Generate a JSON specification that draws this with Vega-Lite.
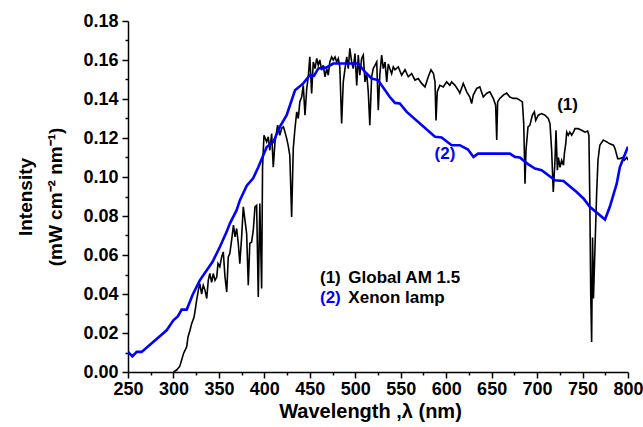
{
  "$schema": "https://vega.github.io/schema/vega-lite/v6.json",
  "width": 500,
  "height": 351,
  "autosize": {"type": "none"},
  "padding": {"left": 128, "top": 21, "right": 15, "bottom": 55},
  "background": "white",
  "config": {
    "font": "Liberation Sans",
    "view": {"stroke": null},
    "axis": {
      "grid": false,
      "domainColor": "#000000",
      "domainWidth": 1.5,
      "tickColor": "#000000",
      "tickWidth": 1.5,
      "labelColor": "#000000",
      "labelFont": "Liberation Sans",
      "labelFontWeight": "bold",
      "labelFontSize": 18,
      "labelFlush": false,
      "labelOverlap": false,
      "titleColor": "#000000",
      "titleFont": "Liberation Sans",
      "titleFontWeight": "bold"
    }
  },
  "datasets": {
    "am": [
      {"w":300,"v":0},{"w":303.5,"v":0.001},{"w":307,"v":0.003},{"w":311,"v":0.0094},{"w":314.6,"v":0.013},{"w":316,"v":0.018},{"w":318,"v":0.021},{"w":320,"v":0.0248},{"w":322.6,"v":0.028},{"w":324,"v":0.032},{"w":325.5,"v":0.0368},{"w":327.4,"v":0.042},{"w":329,"v":0.0453},{"w":331,"v":0.040},{"w":332.8,"v":0.0445},{"w":334.7,"v":0.042},{"w":336.6,"v":0.0377},{"w":338.3,"v":0.047},{"w":340,"v":0.0505},{"w":342,"v":0.046},{"w":343.8,"v":0.0505},{"w":345.7,"v":0.047},{"w":347.6,"v":0.0487},{"w":349,"v":0.0556},{"w":351,"v":0.054},{"w":353,"v":0.059},{"w":354.8,"v":0.0616},{"w":356.7,"v":0.0487},{"w":358.6,"v":0.041},{"w":360.3,"v":0.059},{"w":362,"v":0.0607},{"w":364,"v":0.0676},{"w":366,"v":0.0753},{"w":367.7,"v":0.0693},{"w":369.5,"v":0.0736},{"w":371.3,"v":0.066},{"w":373,"v":0.0556},{"w":375,"v":0.0693},{"w":376.8,"v":0.0847},{"w":378.7,"v":0.0778},{"w":380.5,"v":0.071},{"w":382.3,"v":0.0445},{"w":384,"v":0.066},{"w":386,"v":0.0667},{"w":387.8,"v":0.0727},{"w":389.7,"v":0.0847},{"w":391.5,"v":0.0855},{"w":393.3,"v":0.0385},{"w":395,"v":0.0864},{"w":397,"v":0.0428},{"w":398,"v":0.105},{"w":399.6,"v":0.1214},{"w":402.5,"v":0.118},{"w":404.3,"v":0.1206},{"w":406,"v":0.1137},{"w":408,"v":0.1223},{"w":409.8,"v":0.105},{"w":411.7,"v":0.118},{"w":414.6,"v":0.1266},{"w":417,"v":0.1214},{"w":419,"v":0.125},{"w":421,"v":0.1257},{"w":422.7,"v":0.123},{"w":424.6,"v":0.1197},{"w":426.3,"v":0.116},{"w":428,"v":0.111},{"w":430,"v":0.0795},{"w":431.8,"v":0.1146},{"w":433.7,"v":0.125},{"w":435.6,"v":0.1334},{"w":437.3,"v":0.130},{"w":439,"v":0.1385},{"w":441,"v":0.141},{"w":442.8,"v":0.147},{"w":444.7,"v":0.1317},{"w":446.6,"v":0.1454},{"w":448.3,"v":0.1514},{"w":450,"v":0.1616},{"w":452,"v":0.1428},{"w":453.8,"v":0.159},{"w":455.7,"v":0.1556},{"w":457.6,"v":0.1608},{"w":459.3,"v":0.1573},{"w":461,"v":0.160},{"w":463,"v":0.1548},{"w":464.8,"v":0.1573},{"w":466.7,"v":0.1514},{"w":468.6,"v":0.1556},{"w":470.3,"v":0.1522},{"w":472,"v":0.159},{"w":474,"v":0.1616},{"w":475.8,"v":0.160},{"w":477.7,"v":0.1616},{"w":479.6,"v":0.159},{"w":481.3,"v":0.1608},{"w":483,"v":0.1565},{"w":485,"v":0.1274},{"w":486.8,"v":0.1488},{"w":488.7,"v":0.1556},{"w":490.6,"v":0.1616},{"w":492.3,"v":0.1556},{"w":494,"v":0.166},{"w":496,"v":0.159},{"w":497.8,"v":0.1556},{"w":499.7,"v":0.1633},{"w":501.6,"v":0.147},{"w":503.3,"v":0.1625},{"w":505,"v":0.1522},{"w":507,"v":0.1608},{"w":508.8,"v":0.1625},{"w":510.7,"v":0.1488},{"w":512.6,"v":0.153},{"w":514.3,"v":0.1437},{"w":516,"v":0.1266},{"w":518,"v":0.1514},{"w":519.8,"v":0.1556},{"w":521.7,"v":0.1573},{"w":523.6,"v":0.159},{"w":525.3,"v":0.1342},{"w":527,"v":0.1522},{"w":529,"v":0.1625},{"w":530.8,"v":0.1556},{"w":532.7,"v":0.159},{"w":534.6,"v":0.1488},{"w":536.3,"v":0.158},{"w":538,"v":0.1556},{"w":540,"v":0.153},{"w":541.8,"v":0.1565},{"w":543.7,"v":0.155},{"w":547.3,"v":0.1565},{"w":551,"v":0.1522},{"w":554.7,"v":0.155},{"w":558.3,"v":0.1514},{"w":562,"v":0.153},{"w":565.7,"v":0.1497},{"w":569.3,"v":0.1505},{"w":573,"v":0.148},{"w":576.7,"v":0.1462},{"w":580.3,"v":0.1514},{"w":583.3,"v":0.155},{"w":586,"v":0.153},{"w":587.7,"v":0.1488},{"w":588.8,"v":0.129},{"w":590.2,"v":0.1437},{"w":593,"v":0.147},{"w":596.8,"v":0.1462},{"w":600.5,"v":0.1488},{"w":604,"v":0.147},{"w":606,"v":0.1488},{"w":609.7,"v":0.147},{"w":613.3,"v":0.1445},{"w":615,"v":0.143},{"w":618.8,"v":0.148},{"w":622.6,"v":0.1437},{"w":626,"v":0.141},{"w":628,"v":0.1377},{"w":629.8,"v":0.142},{"w":633.6,"v":0.1454},{"w":637,"v":0.1462},{"w":640.8,"v":0.141},{"w":644.6,"v":0.143},{"w":648,"v":0.1437},{"w":651.8,"v":0.1403},{"w":654.4,"v":0.1368},{"w":655.6,"v":0.119},{"w":656.6,"v":0.1385},{"w":659,"v":0.1403},{"w":662.8,"v":0.142},{"w":666.6,"v":0.143},{"w":670,"v":0.141},{"w":673.8,"v":0.1403},{"w":677.6,"v":0.1403},{"w":681,"v":0.1394},{"w":683.8,"v":0.1385},{"w":685.3,"v":0.1274},{"w":686.7,"v":0.0966},{"w":687.8,"v":0.1137},{"w":690,"v":0.1257},{"w":692,"v":0.1265},{"w":694.8,"v":0.1317},{"w":697,"v":0.1334},{"w":698.5,"v":0.129},{"w":701.3,"v":0.1317},{"w":705,"v":0.1325},{"w":708.7,"v":0.1317},{"w":712.3,"v":0.130},{"w":714.2,"v":0.1274},{"w":716,"v":0.1137},{"w":717.8,"v":0.0923},{"w":719.7,"v":0.1086},{"w":720.8,"v":0.124},{"w":722.3,"v":0.1035},{"w":723.4,"v":0.110},{"w":725.2,"v":0.105},{"w":727,"v":0.1086},{"w":729,"v":0.106},{"w":730,"v":0.112},{"w":731.5,"v":0.117},{"w":732.6,"v":0.123},{"w":734.3,"v":0.1214},{"w":736,"v":0.123},{"w":738,"v":0.1214},{"w":740,"v":0.123},{"w":741.7,"v":0.1248},{"w":745,"v":0.1248},{"w":749,"v":0.124},{"w":752.7,"v":0.123},{"w":755.6,"v":0.1236},{"w":757,"v":0.1214},{"w":758,"v":0.088},{"w":759,"v":0.040},{"w":760,"v":0.0154},{"w":761,"v":0.069},{"w":762,"v":0.0377},{"w":763.7,"v":0.064},{"w":765.5,"v":0.0915},{"w":767,"v":0.1086},{"w":769,"v":0.1163},{"w":772.8,"v":0.119},{"w":776.6,"v":0.118},{"w":780,"v":0.117},{"w":784,"v":0.1163},{"w":785.7,"v":0.1146},{"w":788.7,"v":0.1094},{"w":791,"v":0.1094},{"w":793.8,"v":0.110},{"w":796,"v":0.1086},{"w":798.6,"v":0.110},{"w":800,"v":0.1086}
    ],
    "xe": [
      {"w":250,"v":0.0103},{"w":254.8,"v":0.008},{"w":259.6,"v":0.0103},{"w":265,"v":0.0103},{"w":292.5,"v":0.0214},{"w":299.9,"v":0.0265},{"w":305,"v":0.0286},{"w":309,"v":0.032},{"w":314.6,"v":0.032},{"w":321,"v":0.0395},{"w":329,"v":0.047},{"w":343,"v":0.0565},{"w":351,"v":0.0641},{"w":358.6,"v":0.072},{"w":362,"v":0.0761},{"w":369.5,"v":0.083},{"w":373,"v":0.088},{"w":380.6,"v":0.0955},{"w":387.8,"v":0.0995},{"w":393.3,"v":0.105},{"w":402.6,"v":0.1154},{"w":409.8,"v":0.118},{"w":417,"v":0.1257},{"w":424.5,"v":0.1317},{"w":433.7,"v":0.1445},{"w":442.8,"v":0.148},{"w":450,"v":0.1522},{"w":454.6,"v":0.1519},{"w":459.4,"v":0.1557},{"w":468.4,"v":0.1562},{"w":475.8,"v":0.1582},{"w":503,"v":0.1582},{"w":510.5,"v":0.154},{"w":518,"v":0.1505},{"w":525,"v":0.1497},{"w":538,"v":0.141},{"w":543.7,"v":0.138},{"w":549,"v":0.1377},{"w":556.6,"v":0.1334},{"w":587.7,"v":0.1206},{"w":595,"v":0.1203},{"w":606,"v":0.1163},{"w":615,"v":0.1163},{"w":624,"v":0.1141},{"w":630,"v":0.1103},{"w":635,"v":0.112},{"w":670,"v":0.112},{"w":675.7,"v":0.1103},{"w":681,"v":0.11},{"w":690,"v":0.1066},{"w":697.7,"v":0.1043},{"w":705,"v":0.1035},{"w":719.7,"v":0.0983},{"w":729,"v":0.098},{"w":743.5,"v":0.0923},{"w":751,"v":0.089},{"w":758,"v":0.0847},{"w":774.7,"v":0.0782},{"w":780,"v":0.0847},{"w":787.6,"v":0.0966},{"w":791,"v":0.105},{"w":798.6,"v":0.114},{"w":800,"v":0.1155}
    ],
    "tc": [
      {"w":733.5,"v":0.137,"t":"(1)","s":"am"},
      {"w":598.7,"v":0.112,"t":"(2)","s":"xe"}
    ],
    "tl": [
      {"w":461.2,"v":0.0483,"t":"(1)","s":"am"},
      {"w":492.4,"v":0.0483,"t":"Global AM 1.5","s":"am"},
      {"w":461.2,"v":0.0381,"t":"(2)","s":"xe"},
      {"w":492.4,"v":0.0381,"t":"Xenon lamp","s":"am"}
    ]
  },
  "encoding": {
    "x": {
      "field": "w",
      "type": "quantitative",
      "scale": {"domain": [250, 800], "nice": false, "zero": false},
      "axis": {
        "values": [250,275,300,325,350,375,400,425,450,475,500,525,550,575,600,625,650,675,700,725,750,775,800],
        "labelExpr": "datum.value % 50 === 0 ? datum.label : ''",
        "tickSize": {"condition": {"test": "datum.value % 50 === 0", "value": 6}, "value": 3},
        "labelPadding": 2,
        "title": "Wavelength ,λ (nm)",
        "titleFontSize": 20,
        "titleX": 242,
        "titleY": 45,
        "titleAlign": "center",
        "titleBaseline": "alphabetic"
      }
    },
    "y": {
      "field": "v",
      "type": "quantitative",
      "scale": {"domain": [0, 0.18], "nice": false},
      "axis": {
        "values": [0,0.01,0.02,0.03,0.04,0.05,0.06,0.07,0.08,0.09,0.1,0.11,0.12,0.13,0.14,0.15,0.16,0.17,0.18],
        "format": ".2f",
        "labelExpr": "round(datum.value * 100) % 2 === 0 ? datum.label : ''",
        "tickSize": {"condition": {"test": "round(datum.value * 100) % 2 === 0", "value": 6}, "value": 3},
        "labelPadding": 4,
        "title": ["Intensity", "(mW cm⁻² nm⁻¹)"],
        "titleFontSize": 19,
        "titleLineHeight": 30,
        "titleAngle": -90,
        "titleX": -103,
        "titleY": 175.5,
        "titleAlign": "center",
        "titleBaseline": "middle"
      }
    }
  },
  "layer": [
    {
      "data": {"name": "am"},
      "mark": {"type": "line", "color": "#000000", "strokeWidth": 1.6, "clip": true}
    },
    {
      "data": {"name": "xe"},
      "mark": {"type": "line", "color": "#0000ff", "strokeWidth": 2.6, "clip": true}
    },
    {
      "data": {"name": "tc"},
      "mark": {"type": "text", "align": "center", "baseline": "middle", "fontSize": 17, "fontWeight": "bold", "font": "Liberation Sans"},
      "encoding": {
        "text": {"field": "t"},
        "color": {"field": "s", "type": "nominal", "scale": {"domain": ["am", "xe"], "range": ["#000000", "#0000ff"]}, "legend": null}
      }
    },
    {
      "data": {"name": "tl"},
      "mark": {"type": "text", "align": "left", "baseline": "middle", "fontSize": 17, "fontWeight": "bold", "font": "Liberation Sans"},
      "encoding": {
        "text": {"field": "t"},
        "color": {"field": "s", "type": "nominal", "scale": {"domain": ["am", "xe"], "range": ["#000000", "#0000ff"]}, "legend": null}
      }
    }
  ]
}
